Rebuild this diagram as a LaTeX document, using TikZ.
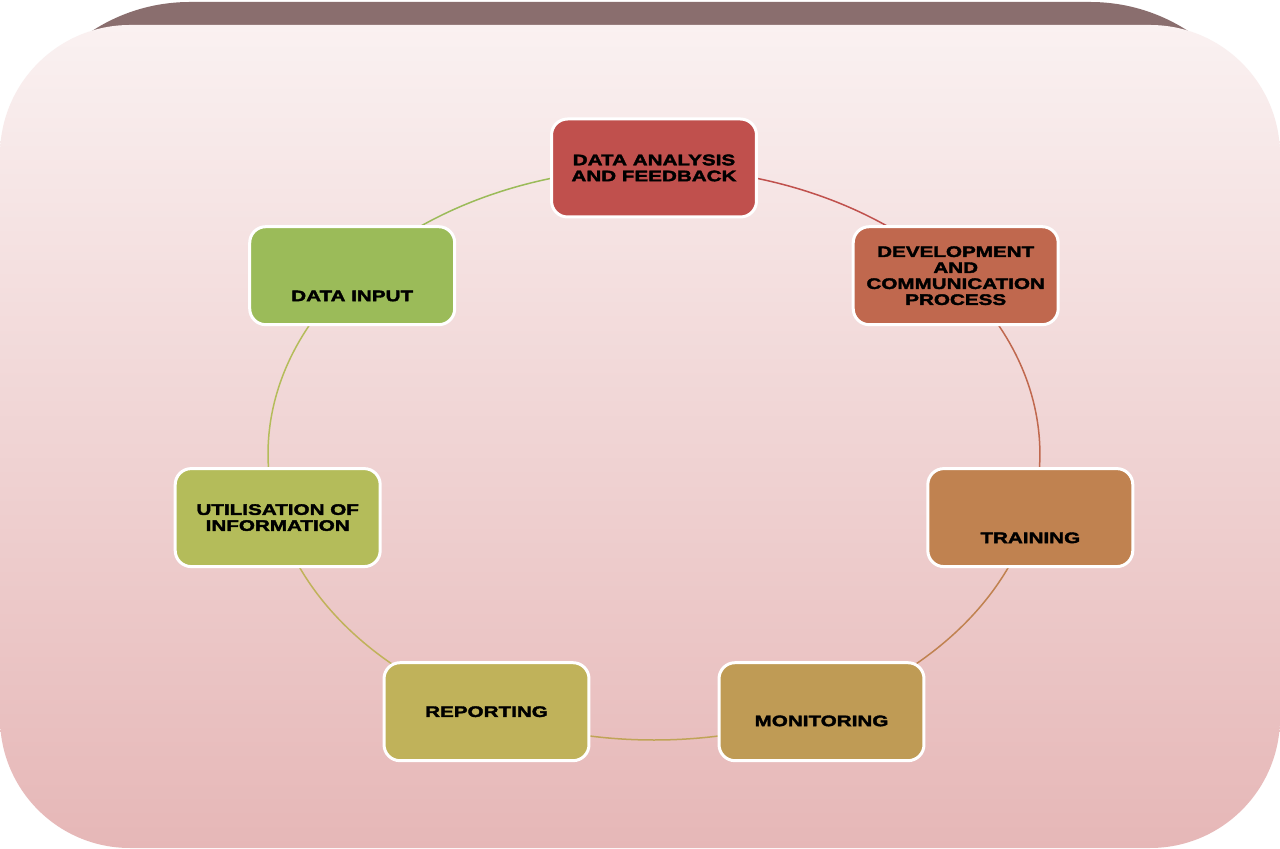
\documentclass[tikz,border=0pt]{standalone}
\usepackage{fontspec}
\newfontfamily\stagefont{Liberation Sans}[FakeStretch=1.35,FakeBold=2.4]
\usepackage{xcolor}

\definecolor{bandcol}{HTML}{8A6E6E}
\definecolor{paletop}{HTML}{FAF1F1}
\definecolor{palebot}{HTML}{E6B7B7}
\definecolor{analysiscol}{HTML}{C0504D}
\definecolor{developcol}{HTML}{C0684E}
\definecolor{trainingcol}{HTML}{C08250}
\definecolor{monitorcol}{HTML}{BF9B55}
\definecolor{reportcol}{HTML}{C0B25A}
\definecolor{utilcol}{HTML}{B4BC5A}
\definecolor{inputcol}{HTML}{9BBB59}

\pgfdeclarelayer{back}
\pgfdeclarelayer{ring}
\pgfsetlayers{back,ring,main}

\begin{document}
\begin{tikzpicture}[x=0.02cm,y=0.02cm,
    stage/.style={draw=white, line width=0.06cm, rounded corners=0.32cm,
        minimum width=4.1cm, minimum height=1.96cm, inner sep=0pt,
        align=center, text=black,
        font=\stagefont\bfseries\fontsize{8.7}{9.1}\selectfont},
    lowtext/.style={text height=#1, text depth=0pt},
    ringline/.style={line width=0.03cm}]

\useasboundingbox (0,0) rectangle (1280,848);

% backdrop
\begin{pgfonlayer}{back}
    \fill[white] (0,0) rectangle (1280,848);
    \fill[bandcol, rounded corners=3.6cm] (10,846) rectangle (1270,348);
    \shade[top color=paletop, bottom color=palebot, rounded corners=2.6cm]
        (0,0) rectangle (1280,823);
\end{pgfonlayer}

% the seven stages
\node[stage, fill=analysiscol] (analysis) at (654,680) {DATA ANALYSIS\\AND FEEDBACK};
\node[stage, fill=developcol] (develop) at (955.7,572.3) {DEVELOPMENT\\AND\\COMMUNICATION\\PROCESS};
\node[stage, fill=trainingcol, lowtext=1.02cm] (training) at (1030.3,330.4) {TRAINING};
\node[stage, fill=monitorcol, lowtext=0.58cm] (monitor) at (821.5,136.3) {MONITORING};
\node[stage, fill=reportcol] (report) at (486.5,136.3) {REPORTING};
\node[stage, fill=utilcol] (util) at (277.7,330.4) {UTILISATION OF\\INFORMATION};
\node[stage, fill=inputcol, lowtext=1.02cm] (input) at (352.2,572.3) {DATA INPUT};

% ring
\begin{pgfonlayer}{ring}
    \draw[ringline, analysiscol!95!developcol] (analysis.center) arc[start angle=90, end angle=38.57, x radius=386, y radius=286];
    \draw[ringline, developcol] (develop.center) arc[start angle=38.57, end angle=-12.86, x radius=386, y radius=286];
    \draw[ringline, trainingcol] (training.center) arc[start angle=-12.86, end angle=-64.29, x radius=386, y radius=286];
    \draw[ringline, monitorcol!60!reportcol] (monitor.center) arc[start angle=-64.29, end angle=-115.71, x radius=386, y radius=286];
    \draw[ringline, reportcol] (report.center) arc[start angle=-115.71, end angle=-167.14, x radius=386, y radius=286];
    \draw[ringline, utilcol] (util.center) arc[start angle=-167.14, end angle=-218.57, x radius=386, y radius=286];
    \draw[ringline, inputcol] (input.center) arc[start angle=141.43, end angle=90, x radius=386, y radius=286];
\end{pgfonlayer}
\end{tikzpicture}
\end{document}
